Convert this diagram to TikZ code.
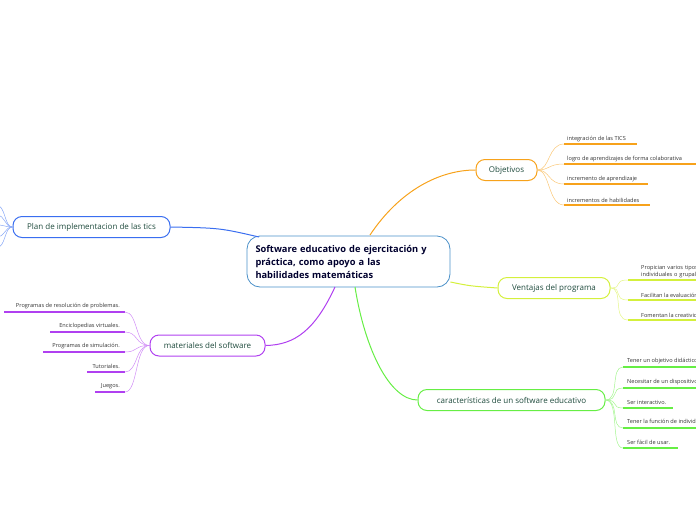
\documentclass[tikz,border=0pt]{standalone}
\usepackage{fontspec}
\setmainfont{Open Sans}
\begin{document}
\begin{tikzpicture}[x=1pt,y=-1pt,
 br/.style={draw=#1,line width=1pt,rounded corners=9pt,minimum height=21pt,inner xsep=8pt,font=\fontsize{8}{9}\selectfont,text=txt},
 lf/.style={anchor=south west,inner sep=1pt,font=\fontsize{5.6}{6.5}\selectfont,text=black!80},
 lfr/.style={anchor=south east,inner sep=1pt,font=\fontsize{5.6}{6.5}\selectfont,text=black!80},
 ul/.style={draw=#1,line width=1.3pt},
 tw/.style={draw=#1!60,line width=0.5pt}]
\definecolor{txt}{HTML}{1E4A3C}
\definecolor{cen}{HTML}{4A90C8}
\definecolor{org}{HTML}{F7A21B}
\definecolor{ylw}{HTML}{D4F03C}
\definecolor{grn}{HTML}{66EE44}
\definecolor{pur}{HTML}{B040F0}
\definecolor{blu}{HTML}{3A6EF0}
\useasboundingbox (0,0) rectangle (696,520);
\clip (0,0) rectangle (696,520);
\node[draw=cen,line width=0.8pt,rounded corners=13pt,minimum width=203pt,minimum height=51pt,text width=186pt,align=left,font=\fontsize{9.3}{13}\selectfont\bfseries,text={black!70!blue!60!black}] (c) at (348.5,261.5) {Software educativo de ejercitación y\\ práctica, como apoyo a las\\ habilidades matemáticas};
\node[br=org,minimum width=61pt] (o) at (506.5,170) {Objetivos};
\node[br=ylw,minimum width=112pt] (v) at (554,288) {Ventajas del programa};
\node[br=grn,minimum width=187pt] (k) at (511.5,400) {características de un software educativo};
\node[br=pur,minimum width=115pt] (m) at (207.5,345.5) {materiales del software};
\node[br=blu,minimum width=157pt] (p) at (91.5,227) {Plan de implementacion de las tics};
% main connectors
\draw[org,line width=1pt] (370,235) .. controls (400,190) and (440,170) .. (o.west);
\draw[ylw,line width=1pt] (c.east|-0,282) .. controls (470,286) .. (v.west);
\draw[grn,line width=1pt] (355,287) .. controls (365,350) and (390,400) .. (k.west);
\draw[pur,line width=1pt] (335,287) .. controls (315,330) and (295,345) .. (m.east);
\draw[blu,line width=1pt] (259,237) .. controls (220,228) .. (p.east);
% Objetivos leaves
\coordinate (oe) at (o.east);
\foreach \y/\e/\t in {144/637/integración de las TICS,164/696/logro de aprendizajes de forma colaborativa,184/648/incremento de aprendizaje,205/650/incrementos de habilidades}{
 \node[lf] (n) at (566,\y-1) {\t};
 \draw[ul=org] (564,\y) -- (\e,\y);
 \draw[tw=org] (oe) .. controls (550,170) and (548,\y) .. (564,\y);}
% Ventajas leaves
\coordinate (ve) at (v.east);
\node[lf,align=left,text width=160pt] (n) at (640,279) {Propician varios tipos de aprendizajes\\ individuales o grupales};
\node[lf] (n) at (640,299) {Facilitan la evaluación};
\node[lf] (n) at (640,319) {Fomentan la creatividad};
\foreach \y in {280,300,320}{
 \draw[ul=ylw] (628,\y) -- (696,\y);
 \draw[tw=ylw] (ve) .. controls (624,288) and (612,\y) .. (628,\y);}
% Caracteristicas leaves
\coordinate (ke) at (k.east);
\foreach \y/\e/\t in {367/696/Tener un objetivo didáctico.,388/696/Necesitar de un dispositivo digital.,408/673/Ser interactivo.,428/696/Tener la función de individualizar el trabajo.,448/678/Ser fácil de usar.}{
 \node[lf] (n) at (626,\y-2) {\t};
 \draw[ul=grn] (623,\y) -- (\e,\y);
 \draw[tw=grn] (ke) .. controls (620,400) and (610,\y) .. (623,\y);}
% Materiales leaves
\coordinate (mw) at (m.west);
\foreach \y/\s/\t in {312/4/Programas de resolución de problemas.,332/50/Enciclopedias virtuales.,352/43/Programas de simulación.,372/87/Tutoriales.,392/95/Juegos.}{
 \node[lfr] (n) at (121,\y-2) {\t};
 \draw[ul=pur] (\s,\y) -- (125,\y);
 \draw[tw=pur] (mw) .. controls (135,345) and (138,\y) .. (125,\y);}
% Plan leaves (offscreen)
\coordinate (pw) at (p.west);
\foreach \y in {205,215,225,237,248}{
 \draw[tw=blu] (pw) .. controls (4,227) and (6,\y) .. (-4,\y);}
\end{tikzpicture}
\end{document}
